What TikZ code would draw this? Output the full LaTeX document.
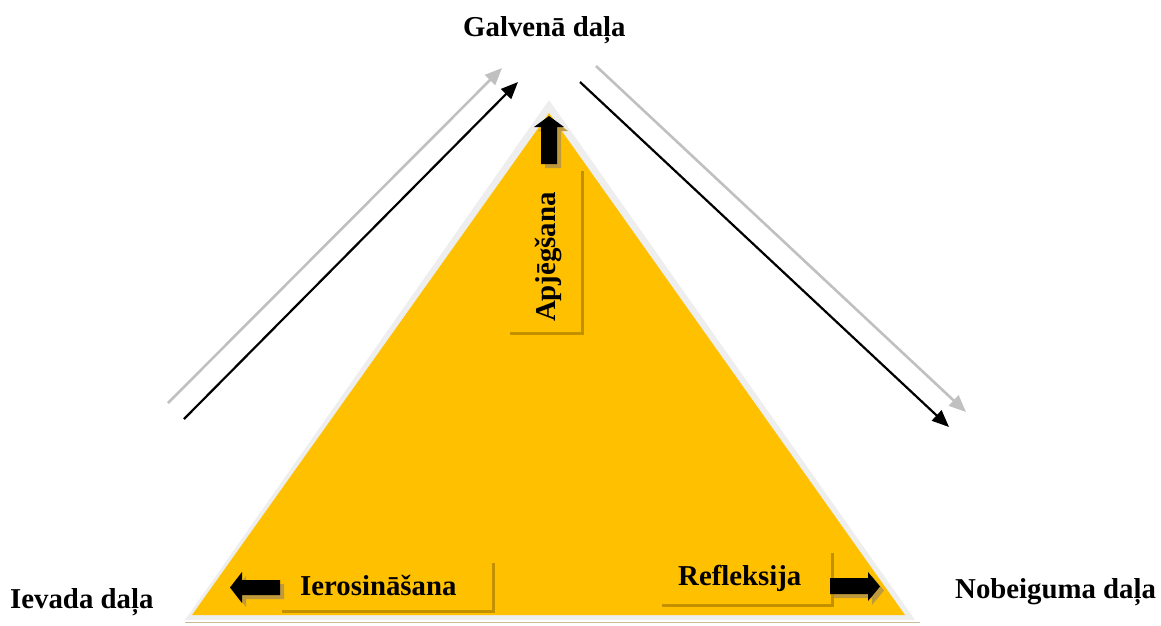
\documentclass[tikz,border=0pt]{standalone}
\usepackage{fontspec}
\setmainfont{Liberation Serif}
\usetikzlibrary{arrows.meta}
\definecolor{gold}{HTML}{FFC000}
\definecolor{rim}{HTML}{EEEEEE}
\definecolor{basetan}{HTML}{CDBA94}
\definecolor{boxshadow}{HTML}{C39100}
\definecolor{arrshadow}{HTML}{BE9A3C}
\definecolor{lightline}{HTML}{C0C0C0}
\tikzset{
  lbl/.style={font=\fontsize{28.8}{30}\selectfont\bfseries, inner sep=0pt, anchor=base west},
  boxline/.style={draw=boxshadow, line width=3pt},
  blockarrow/.style={fill=black},
  blockshadow/.style={fill=arrshadow},
  darkconn/.style={draw=black, line width=2.2pt, -{Triangle[length=17pt,width=14pt]}},
  lightconn/.style={draw=lightline, line width=2.6pt, -{Triangle[length=17pt,width=14pt]}}
}
\begin{document}
\begin{tikzpicture}[x=1pt,y=-1pt]
\useasboundingbox (0,0) rectangle (1161,625);
% triangles
\fill[rim] (185,620) -- (549,100) -- (915,620) -- cycle;
\fill[gold] (192,615) -- (549,113) -- (905,615) -- cycle;
\draw[draw=basetan, line width=1.5pt] (185,622.5) -- (920,622.5);
% box shadow lines
\draw[boxline] (282,611) -- (493,611) -- (493,563);
\draw[boxline] (662,605) -- (832,605) -- (832,553);
\draw[boxline] (510,333) -- (582,333) -- (582,171);
% block arrows (shadows)
\begin{scope}[shift={(4,4)}]
\fill[blockshadow] (230,587.5) -- (242,572) -- (242,580) -- (280,580) -- (280,595) -- (242,595) -- (242,603) -- cycle;
\fill[blockshadow] (880,586.5) -- (868,572) -- (868,578) -- (830,578) -- (830,594) -- (868,594) -- (868,601) -- cycle;
\fill[blockshadow] (549,116) -- (564,127) -- (557,127) -- (557,164) -- (541,164) -- (541,127) -- (534,127) -- cycle;
\end{scope}
\fill[blockarrow] (230,587.5) -- (242,572) -- (242,580) -- (280,580) -- (280,595) -- (242,595) -- (242,603) -- cycle;
\fill[blockarrow] (880,586.5) -- (868,572) -- (868,578) -- (830,578) -- (830,594) -- (868,594) -- (868,601) -- cycle;
\fill[blockarrow] (549,116) -- (564,127) -- (557,127) -- (557,164) -- (541,164) -- (541,127) -- (534,127) -- cycle;
% labels
\node[lbl] (galvena) at (463,36) {Galvenā daļa};
\node[lbl] (ievada) at (10,608) {Ievada daļa};
\node[lbl] (nobeiguma) at (955,598) {Nobeiguma daļa};
\node[lbl] (ierosin) at (300,595) {Ierosināšana};
\node[lbl] (refleks) at (678,585) {Refleksija};
\node[lbl, rotate=90] (apjeg) at (555,322) {Apjēgšana};
% connectors
\coordinate (lgS) at (168,403);
\coordinate (lgE) at (502,68);
\coordinate (lbS) at (184,419);
\coordinate (lbE) at (518,82);
\coordinate (rbS) at (580,82);
\coordinate (rbE) at (949,427);
\coordinate (rgS) at (596,66);
\coordinate (rgE) at (966,412);
\draw[lightconn] (lgS) -- (lgE);
\draw[darkconn] (lbS) -- (lbE);
\draw[darkconn] (rbS) -- (rbE);
\draw[lightconn] (rgS) -- (rgE);
\end{tikzpicture}
\end{document}
